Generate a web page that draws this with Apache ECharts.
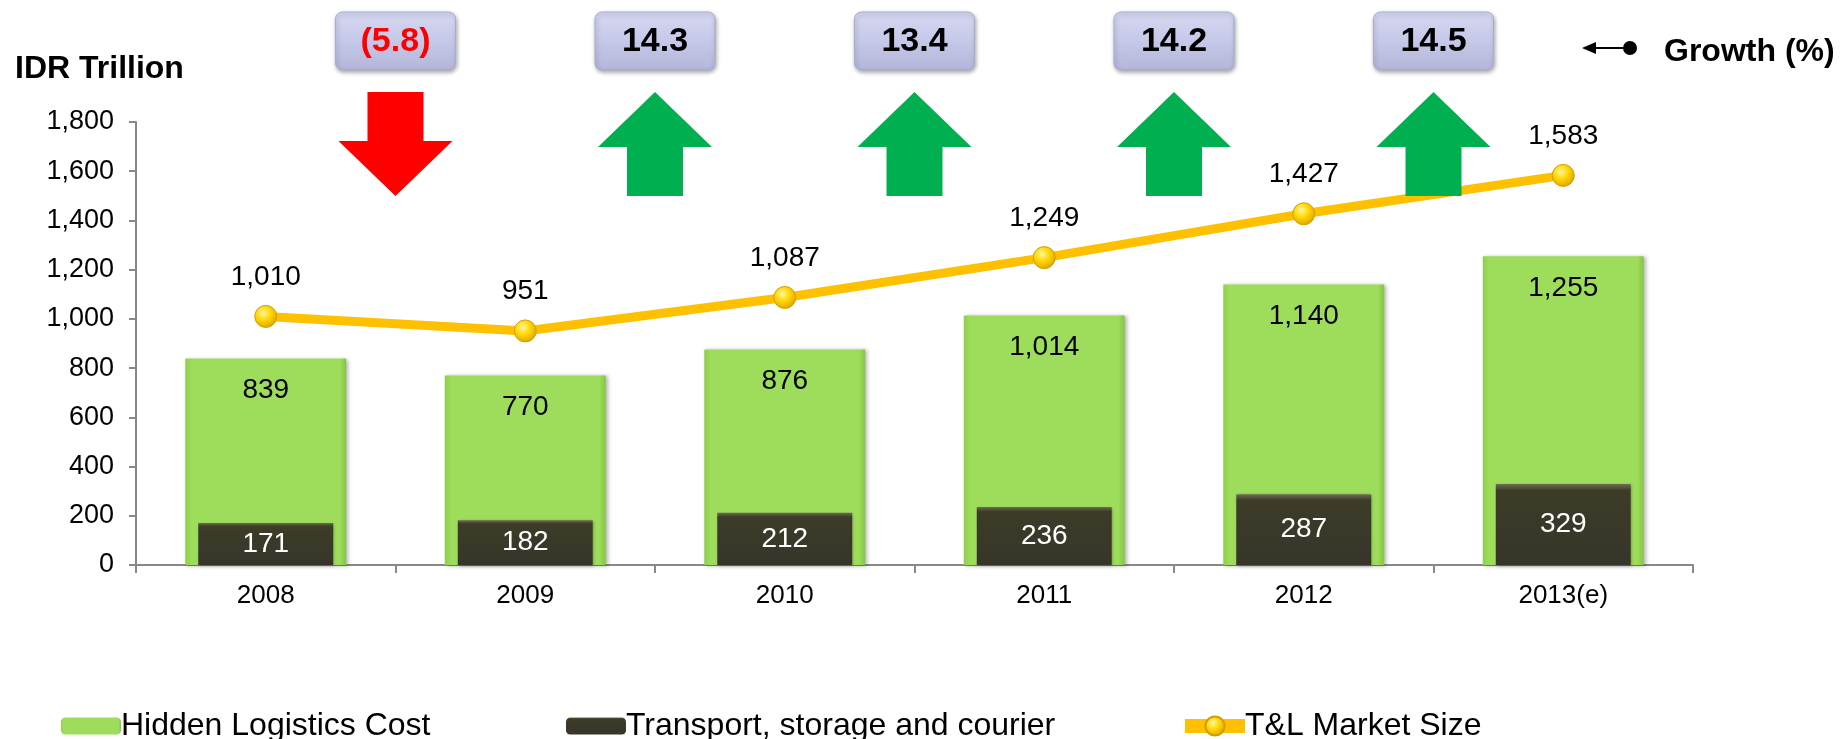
<!DOCTYPE html>
<html>
<head>
<meta charset="utf-8">
<script src="https://cdn.jsdelivr.net/npm/echarts@6/dist/echarts.min.js"></script>
<style>
  html, body { margin: 0; padding: 0; background: #fff; }
  #chart { width: 1840px; height: 739px; }
</style>
</head>
<body>
<div id="chart"></div>
<script>
// chart data
const years = ['2008', '2009', '2010', '2011', '2012', '2013(e)'];
const hiddenCost = [839, 770, 876, 1014, 1140, 1255];
const transport = [171, 182, 212, 236, 287, 329];
const marketSize = [1010, 951, 1087, 1249, 1427, 1583];
const growth = [-5.8, 14.3, 13.4, 14.2, 14.5];

const FONT = 'Arial, "Liberation Sans", sans-serif';
const fmt = (v) => Number(v).toLocaleString('en-US');
const fmtGrowth = (v) => (v < 0 ? '(' + Math.abs(v).toFixed(1) + ')' : v.toFixed(1));

let chart = echarts.init(document.getElementById('chart'), null, { renderer: 'canvas' });

// growth box + arrow, drawn between two years
function renderGrowth(params, api) {
  let idx = api.value(0);
  let val = api.value(1);
  let center = api.coord([idx, 0]);
  let band = api.size([1, 0])[0];
  let cx = center[0] + band / 2;

  let boxW = 120, boxH = 58, boxTop = 12;
  let arrowTop = 92, arrowH = 104, arrowW = 114, shaftW = 56, headH = 55;
  let up = val >= 0;
  let pts;
  if (up) {
    pts = [
      [cx, arrowTop],
      [cx + arrowW / 2, arrowTop + headH],
      [cx + shaftW / 2, arrowTop + headH],
      [cx + shaftW / 2, arrowTop + arrowH],
      [cx - shaftW / 2, arrowTop + arrowH],
      [cx - shaftW / 2, arrowTop + headH],
      [cx - arrowW / 2, arrowTop + headH],
    ];
  } else {
    pts = [
      [cx - shaftW / 2, arrowTop],
      [cx + shaftW / 2, arrowTop],
      [cx + shaftW / 2, arrowTop + arrowH - headH],
      [cx + arrowW / 2, arrowTop + arrowH - headH],
      [cx, arrowTop + arrowH],
      [cx - arrowW / 2, arrowTop + arrowH - headH],
      [cx - shaftW / 2, arrowTop + arrowH - headH],
    ];
  }
  return {
    type: 'group',
    children: [
      {
        type: 'rect',
        shape: { x: cx - boxW / 2, y: boxTop, width: boxW, height: boxH, r: 7 },
        style: {
          fill: new echarts.graphic.LinearGradient(0, 0, 0, 1, [
            { offset: 0, color: '#d6d8f2' },
            { offset: 0.5, color: '#c6c8e8' },
            { offset: 1, color: '#b4b6da' },
          ]),
          stroke: '#a9abd0',
          lineWidth: 1,
          shadowBlur: 4,
          shadowOffsetX: 1,
          shadowOffsetY: 2,
          shadowColor: 'rgba(0,0,0,0.35)',
        },
      },
      {
        type: 'text',
        style: {
          x: cx,
          y: boxTop + boxH / 2 + 1,
          text: fmtGrowth(val),
          align: 'center',
          verticalAlign: 'middle',
          fill: up ? '#000' : '#ff0000',
          font: 'bold 34px ' + FONT,
        },
      },
      {
        type: 'polygon',
        shape: { points: pts },
        style: { fill: up ? '#00b050' : '#ff0000' },
      },
    ],
  };
}

let markerColor = new echarts.graphic.RadialGradient(0.4, 0.35, 0.7, [
  { offset: 0, color: '#fff6a0' },
  { offset: 0.45, color: '#ffd700' },
  { offset: 1, color: '#d9a000' },
]);

let legendText = { fontSize: 32, color: '#000', padding: [0, 0, 0, -5] };

let option = {
  animation: false,
  textStyle: { fontFamily: FONT },
  title: {
    text: 'IDR Trillion',
    left: 10,
    top: 48,
    textStyle: { fontSize: 32, fontWeight: 'bold', color: '#000', fontFamily: FONT },
  },
  legend: [
    {
      data: ['Hidden Logistics Cost'],
      left: 56, top: 705,
      itemWidth: 60, itemHeight: 17,
      textStyle: legendText,
    },
    {
      data: ['Transport, storage and courier'],
      left: 561, top: 705,
      itemWidth: 60, itemHeight: 17,
      textStyle: legendText,
    },
    {
      data: ['T&L Market Size'],
      left: 1173, top: 705,
      itemWidth: 60, itemHeight: 24,
      lineStyle: { width: 14 },
      textStyle: legendText,
    },
  ],
  grid: { left: 136, right: 147, top: 122, bottom: 174 },
  xAxis: [
    {
      type: 'category',
      data: years,
      axisLine: { lineStyle: { color: '#888', width: 2 } },
      axisTick: { show: true, length: 8, lineStyle: { color: '#888', width: 2 } },
      axisLabel: { fontSize: 26, color: '#000', margin: 18 },
    },
    {
      type: 'category',
      data: years,
      show: false,
    },
  ],
  yAxis: {
    type: 'value',
    min: 0,
    max: 1800,
    interval: 200,
    splitLine: { show: false },
    axisLine: { show: true, lineStyle: { color: '#888', width: 2 } },
    axisTick: { show: true, length: 7, lineStyle: { color: '#888', width: 2 } },
    axisLabel: { fontSize: 27, color: '#000', margin: 22, formatter: (v) => fmt(v) },
  },
  graphic: [
    {
      type: 'group',
      left: 1582,
      top: 41,
      children: [
        { type: 'line', shape: { x1: 4, y1: 7, x2: 46, y2: 7 }, style: { stroke: '#000', lineWidth: 2 } },
        { type: 'polygon', shape: { points: [[0, 7], [14, 1], [14, 13]] }, style: { fill: '#000' } },
        { type: 'circle', shape: { cx: 48, cy: 7, r: 7 }, style: { fill: '#000' } },
      ],
    },
    {
      type: 'text',
      left: 1664,
      top: 36,
      style: { text: 'Growth (%)', font: 'bold 32px ' + FONT, fill: '#000' },
    },
  ],
  series: [
    {
      name: 'Hidden Logistics Cost',
      type: 'bar',
      data: hiddenCost,
      barWidth: '62%',
      itemStyle: {
        color: new echarts.graphic.LinearGradient(0, 0, 1, 0, [
          { offset: 0, color: '#8fcf4c' },
          { offset: 0.04, color: '#9edd5c' },
          { offset: 0.96, color: '#9edd5c' },
          { offset: 1, color: '#86c444' },
        ]),
        shadowBlur: 4,
        shadowOffsetX: 2,
        shadowOffsetY: 1,
        shadowColor: 'rgba(0,0,0,0.3)',
      },
      label: {
        show: true,
        position: 'insideTop',
        distance: 18,
        fontSize: 28,
        color: '#000',
        formatter: (p) => fmt(p.value),
      },
    },
    {
      name: 'Transport, storage and courier',
      type: 'bar',
      xAxisIndex: 1,
      data: transport,
      barWidth: '52%',
      itemStyle: {
        color: new echarts.graphic.LinearGradient(0, 0, 0, 1, [
          { offset: 0, color: '#6e6c55' },
          { offset: 0.08, color: '#3d3c28' },
          { offset: 1, color: '#36352a' },
        ]),
        shadowBlur: 3,
        shadowOffsetX: 1,
        shadowOffsetY: 1,
        shadowColor: 'rgba(0,0,0,0.3)',
      },
      label: {
        show: true,
        position: 'inside',
        fontSize: 28,
        color: '#fff',
        formatter: (p) => fmt(p.value),
      },
    },
    {
      name: 'T&L Market Size',
      type: 'line',
      data: marketSize,
      symbol: 'circle',
      symbolSize: 22,
      z: 5,
      lineStyle: { color: '#ffc000', width: 9 },
      itemStyle: { color: markerColor, borderColor: '#d49c00', borderWidth: 1 },
      label: {
        show: true,
        position: 'top',
        distance: 14,
        fontSize: 28,
        color: '#000',
        formatter: (p) => fmt(p.value),
      },
    },
    {
      name: 'Growth',
      type: 'custom',
      clip: false,
      silent: true,
      z: 10,
      data: growth.map((g, i) => [i, g]),
      encode: { x: 0 },
      renderItem: renderGrowth,
    },
  ],
};

chart.setOption(option);
</script>
</body>
</html>
